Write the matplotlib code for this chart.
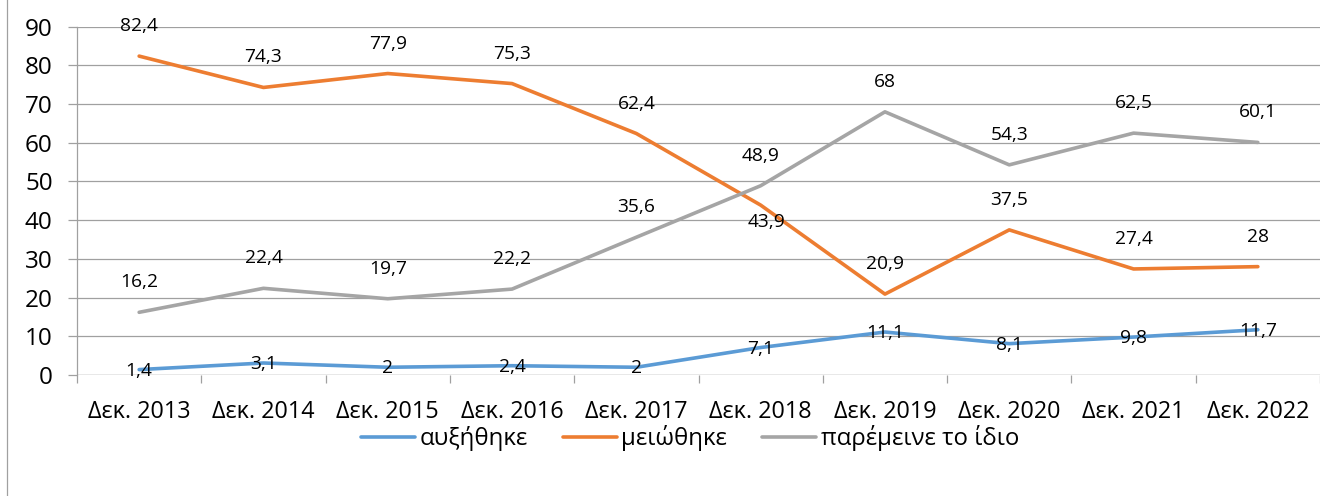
import matplotlib
matplotlib.use("Agg")
import matplotlib.pyplot as plt
from matplotlib.lines import Line2D
import numpy as np

plt.rcParams['font.family'] = ['Open Sans', 'DejaVu Sans']

categories = ["Δεκ. 2013", "Δεκ. 2014", "Δεκ. 2015", "Δεκ. 2016", "Δεκ. 2017",
              "Δεκ. 2018", "Δεκ. 2019", "Δεκ. 2020", "Δεκ. 2021", "Δεκ. 2022"]
increased = [1.4, 3.1, 2.0, 2.4, 2.0, 7.1, 11.1, 8.1, 9.8, 11.7]
decreased = [82.4, 74.3, 77.9, 75.3, 62.4, 43.9, 20.9, 37.5, 27.4, 28.0]
same = [16.2, 22.4, 19.7, 22.2, 35.6, 48.9, 68.0, 54.3, 62.5, 60.1]
series_names = ["αυξήθηκε", "μειώθηκε", "παρέμεινε το ίδιο"]
y_ticks = [0, 10, 20, 30, 40, 50, 60, 70, 80, 90]

colors = ["#5B9BD5", "#ED7D31", "#A5A5A5"]

W, H = 1320, 496
fig = plt.figure(figsize=(W / 100, H / 100), dpi=100)
ax = fig.add_axes([77 / W, 1 - 375 / H, 1 - 77 / W, (375 - 26.7) / H])

x = np.arange(len(categories))
all_series = [increased, decreased, same]

def fmt(v):
    s = ("%.1f" % v).rstrip("0").rstrip(".")
    return s.replace(".", ",")

px = 72 / 100  # points per pixel
for si, (vals, name, col) in enumerate(zip(all_series, series_names, colors)):
    ax.plot(x, vals, color=col, lw=2.6, label=name, solid_capstyle='round', zorder=3)
    for i, v in enumerate(vals):
        dx, dy = 0, 30
        if si == 0:
            dy = -1
        if si == 1 and i == 5:
            dx, dy = 6, -17
        ax.annotate(fmt(v), (x[i], v), xytext=(dx * px, dy * px), textcoords='offset points',
                    ha='center', va='center', fontsize=13.8, color='#000000', zorder=4)

ax.set_xlim(-0.5, len(categories) - 0.5)
ax.set_ylim(0, 90)
ax.set_yticks(y_ticks)
ax.set_xticks(x)
ax.set_xticklabels(categories)
ax.set_xticks(np.arange(-0.5, len(categories) + 0.5, 1), minor=True)

ax.grid(axis='y', color='#A0A0A0', lw=0.9, zorder=0)
ax.set_axisbelow(True)
for s in ['top', 'right', 'bottom']:
    ax.spines[s].set_visible(False)
ax.spines['left'].set_color('#A0A0A0')
ax.spines['left'].set_linewidth(0.9)
ax.axhline(0, color='#A0A0A0', lw=0.9, zorder=1)

ax.tick_params(axis='y', which='major', length=9 * px, width=0.9, color='#A0A0A0',
               labelsize=17.5, pad=11, labelcolor='#000000')
ax.tick_params(axis='x', which='major', length=0, labelsize=16.8, pad=18, labelcolor='#000000')
ax.tick_params(axis='x', which='minor', length=8 * px, width=0.9, color='#A0A0A0')

leg = fig.legend(loc='center', bbox_to_anchor=(690 / W, 1 - 438 / H), ncol=3, frameon=False,
                 fontsize=17.3, handlelength=2.25, handletextpad=0.2, columnspacing=1.45)

fig.add_artist(Line2D([7 / W, 7 / W], [0, 1], color='#A0A0A0', lw=0.9, transform=fig.transFigure))

fig.savefig("out.png", dpi=100)
